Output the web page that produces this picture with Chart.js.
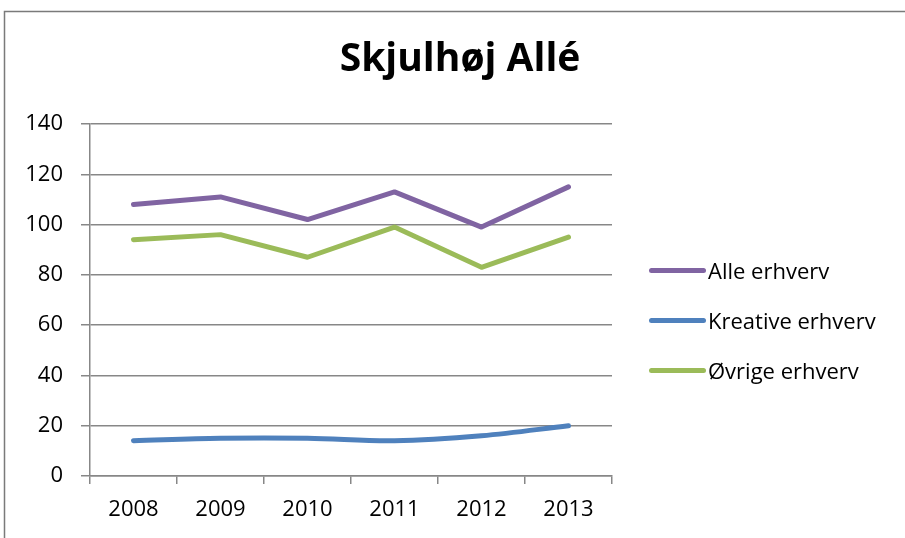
<!DOCTYPE html>
<html>
<head>
<meta charset="utf-8">
<script src="https://cdn.jsdelivr.net/npm/chart.js@4/dist/chart.umd.min.js"></script>
<style>
html,body{margin:0;padding:0;background:#fff;}
#wrap{width:905px;height:538px;position:relative;overflow:hidden;}
#legend{position:absolute;left:0;top:0;width:905px;height:538px;pointer-events:none;}
.li{position:absolute;left:649px;height:30px;display:flex;align-items:center;font-family:"Open Sans","Noto Sans",sans-serif;font-size:22px;color:#000;white-space:nowrap;}
.li .sw{width:57px;height:5px;border-radius:3px;margin-right:2px;}
</style>
</head>
<body>
<div id="wrap"><canvas id="c" width="905" height="538"></canvas><div id="legend"></div></div>
<script>
const titleText = 'Skjulhøj Allé';
const years = ['2008', '2009', '2010', '2011', '2012', '2013'];
const alleErhverv = [108, 111, 102, 113, 99, 115];
const kreativeErhverv = [14, 15, 15, 14, 16, 20];
const oevrigeErhverv = [94, 96, 87, 99, 83, 95];
const seriesNames = ['Alle erhverv', 'Kreative erhverv', 'Øvrige erhverv'];
const seriesColors = ['#8064A2', '#4F81BD', '#9BBB59'];
const yTicks = [0, 20, 40, 60, 80, 100, 120, 140];

const FONT = '"Open Sans", "Noto Sans", sans-serif';
const GRID = '#878787';

const framePlugin = {
  id: 'frame',
  beforeDraw(chart) {
    const ctx = chart.ctx;
    ctx.save();
    ctx.fillStyle = '#fff';
    ctx.fillRect(0, 0, chart.width, chart.height);
    ctx.strokeStyle = '#7a7a7a';
    ctx.lineWidth = 1.5;
    ctx.beginPath();
    ctx.moveTo(4.5, chart.height);
    ctx.lineTo(4.5, 11.5);
    ctx.lineTo(chart.width, 11.5);
    ctx.stroke();
    ctx.restore();
  }
};

function buildLegend(chart) {
  const el = document.getElementById('legend');
  el.innerHTML = '';
  const centers = [270, 320, 370];
  chart.data.datasets.forEach((ds, i) => {
    const row = document.createElement('div');
    row.className = 'li';
    row.style.top = (centers[i] - 15) + 'px';
    const sw = document.createElement('span');
    sw.className = 'sw';
    sw.style.background = ds.borderColor;
    const tx = document.createElement('span');
    tx.textContent = ds.label;
    row.appendChild(sw);
    row.appendChild(tx);
    el.appendChild(row);
  });
}

function build() {
  const chart = new Chart(document.getElementById('c'), {
    type: 'line',
    data: {
      labels: years,
      datasets: [
        { label: seriesNames[0], data: alleErhverv, borderColor: seriesColors[0], tension: 0 },
        { label: seriesNames[1], data: kreativeErhverv, borderColor: seriesColors[1], tension: 0.35 },
        { label: seriesNames[2], data: oevrigeErhverv, borderColor: seriesColors[2], tension: 0 }
      ].map(d => Object.assign(d, {
        backgroundColor: d.borderColor,
        borderWidth: 5, pointRadius: 0, pointHoverRadius: 0,
        borderCapStyle: 'round', borderJoinStyle: 'round', fill: false
      }))
    },
    options: {
      responsive: false,
      animation: false,
      devicePixelRatio: 1,
      layout: { padding: { left: 15, right: 0, top: 0, bottom: 12 } },
      plugins: {
        title: {
          display: true,
          text: titleText,
          color: '#000',
          font: { family: FONT, size: 39, weight: 'bold' },
          padding: { top: 36, bottom: 41.2 }
        },
        legend: { display: false },
        tooltip: { enabled: false }
      },
      scales: {
        x: {
          offset: true,
          grid: { offset: true, drawOnChartArea: false, drawTicks: true, tickLength: 8, color: GRID, lineWidth: 1.5 },
          border: { display: true, color: GRID, width: 1.5 },
          ticks: { color: '#000', font: { family: FONT, size: 22 }, padding: 13 },
          afterFit(s) { s.height = 50; }
        },
        y: {
          min: 0, max: 140,
          afterBuildTicks(s) { s.ticks = yTicks.map(v => ({ value: v })); },
          grid: { color: GRID, lineWidth: 1.5, drawTicks: true, tickLength: 9 },
          border: { display: true, color: GRID, width: 1.5 },
          ticks: { color: '#000', font: { family: FONT, size: 22 }, padding: 18 },
          afterFit(s) { s.width = 75; }
        },
        legendSpace: {
          type: 'linear',
          position: 'right',
          min: 0, max: 1,
          grid: { display: false, drawOnChartArea: false },
          border: { display: false },
          ticks: { display: false },
          afterFit(s) { s.width = 293; }
        }
      }
    },
    plugins: [framePlugin]
  });
  buildLegend(chart);
}

Promise.all([
  document.fonts.load('22px "Open Sans"', 'Øvrige erhverv 0123456789'),
  document.fonts.load('bold 39px "Open Sans"', 'Skjulhøj Allé')
]).then(build, build);
</script>
</body>
</html>
